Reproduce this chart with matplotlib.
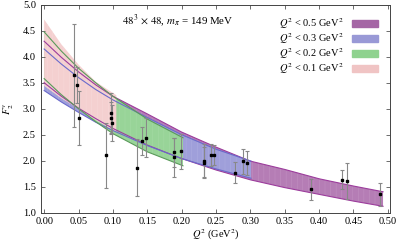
import matplotlib
matplotlib.use('Agg')
import matplotlib.pyplot as plt
from matplotlib.patches import Patch

plt.rcParams['font.family'] = 'Liberation Serif'
plt.rcParams['mathtext.fontset'] = 'stix'
plt.rcParams['hatch.linewidth'] = 0.3

# lattice data points
q2 = [0.044, 0.048, 0.050, 0.090, 0.097, 0.097, 0.099, 0.135, 0.143, 0.148,
      0.189, 0.189, 0.199, 0.233, 0.233, 0.243, 0.247, 0.278, 0.289, 0.295,
      0.388, 0.433, 0.441, 0.488]
f2 = [3.64, 3.46, 2.83, 2.10, 2.91, 2.83, 2.72, 1.86, 2.37, 2.44,
      2.16, 2.06, 2.18, 2.00, 1.96, 2.11, 2.11, 1.77, 1.99, 1.95,
      1.45, 1.63, 1.61, 1.35]
f2_err = [1.00, 0.35, 0.52, 0.62, 0.40, 0.30, 0.35, 0.55, 0.27, 0.38,
          0.28, 0.38, 0.34, 0.32, 0.30, 0.21, 0.20, 0.20, 0.24, 0.23,
          0.20, 0.18, 0.34, 0.22]

# fit bands
q_05 = [0.0, 0.025, 0.05, 0.075, 0.1, 0.15, 0.2, 0.25, 0.3, 0.35, 0.4, 0.45, 0.493]
hi_05 = [4.30, 3.99, 3.71, 3.46, 3.24, 2.90, 2.55, 2.26, 1.99, 1.83, 1.65, 1.51, 1.40]
lo_05 = [3.50, 3.24, 3.01, 2.81, 2.62, 2.30, 2.04, 1.82, 1.63, 1.48, 1.35, 1.22, 1.12]

q_03 = [0.0, 0.025, 0.05, 0.075, 0.1, 0.15, 0.2, 0.25, 0.301]
hi_03 = [4.15, 3.86, 3.60, 3.37, 3.17, 2.83, 2.50, 2.22, 1.99]
lo_03 = [3.35, 3.13, 2.93, 2.74, 2.58, 2.29, 2.04, 1.84, 1.66]

q_02 = [0.0, 0.025, 0.05, 0.075, 0.1, 0.15, 0.202]
hi_02 = [4.48, 4.11, 3.78, 3.50, 3.24, 2.80, 2.44]
lo_02 = [3.58, 3.27, 3.00, 2.75, 2.52, 2.17, 1.90]

q_01 = [0.0, 0.025, 0.05, 0.075, 0.105]
hi_01 = [4.72, 4.24, 3.85, 3.52, 3.26]
lo_01 = [3.44, 3.20, 3.00, 2.78, 2.55]

labels = [r'$Q^2$ < 0.5 GeV$^2$', r'$Q^2$ < 0.3 GeV$^2$',
          r'$Q^2$ < 0.2 GeV$^2$', r'$Q^2$ < 0.1 GeV$^2$']

fig = plt.figure(figsize=(4.07, 2.44), dpi=100)
ax = fig.add_axes([0.100, 0.129, 0.858, 0.851])

# bands drawn as stripy fills, widest range first
ax.fill_between(q_05, lo_05, hi_05, facecolor='#b57db5', edgecolor='#c595c5',
                hatch='|||', lw=0)
ax.fill_between(q_03, lo_03, hi_03, facecolor='#9f9fda', edgecolor='#b0b0e2',
                hatch='|||', lw=0)
ax.fill_between(q_02, lo_02, hi_02, facecolor='#98d498', edgecolor='#a8dca8',
                hatch='|||', lw=0)
ax.fill_between(q_01, lo_01, hi_01, facecolor='#f4d0d0', edgecolor='#f8dcdc',
                hatch='|||', lw=0)

# band edges
for q, hi, lo, c in [(q_05, hi_05, lo_05, '#9c3c9c'),
                     (q_03, hi_03, lo_03, '#6a6acc'),
                     (q_02, hi_02, lo_02, '#5a9a5a')]:
    ax.plot(q, hi, color=c, lw=0.8)
    ax.plot(q, lo, color=c, lw=0.8)

ax.errorbar(q2, f2, yerr=f2_err, fmt='s', ms=2, color='black',
            ecolor='#888888', elinewidth=0.8, capsize=1.5, capthick=0.8)

ax.set_xlim(-0.005, 0.503)
ax.set_ylim(1.0, 5.0)
ax.set_xticks([0.0, 0.05, 0.1, 0.15, 0.2, 0.25, 0.3, 0.35, 0.4, 0.45, 0.5])
ax.set_xticklabels(['0.00', '0.05', '0.10', '0.15', '0.20', '0.25', '0.30',
                    '0.35', '0.40', '0.45', '0.50'])
ax.set_yticks([1.0, 1.5, 2.0, 2.5, 3.0, 3.5, 4.0, 4.5, 5.0])
ax.tick_params(direction='in', top=True, right=True, labelsize=7.5,
               length=3, width=0.6, color='#555555')
for s in ax.spines.values():
    s.set_linewidth(0.7)
    s.set_color('#444444')

ax.set_xlabel(r'$Q^2$ (GeV$^2$)', fontsize=7.5, labelpad=1)
ax.set_ylabel(r'$F_2^v$', fontsize=7.5, labelpad=5)

ax.text(0.234, 0.925, r'$48^3 \,\times\, 48$, $m_\pi$ = 149 MeV',
        transform=ax.transAxes, fontsize=7.8, va='center')

handles = [Patch(color='#a566a5'), Patch(color='#9999d6'),
           Patch(color='#8fd28f'), Patch(color='#f0c4c4')]
ax.legend(handles, labels, loc='upper right', frameon=False, fontsize=7.5,
          markerfirst=False, handlelength=2.5, handleheight=0.7,
          labelspacing=0.0, borderaxespad=1.0, borderpad=0.1,
          handletextpad=0.8)

fig.savefig('out.png', dpi=100)
